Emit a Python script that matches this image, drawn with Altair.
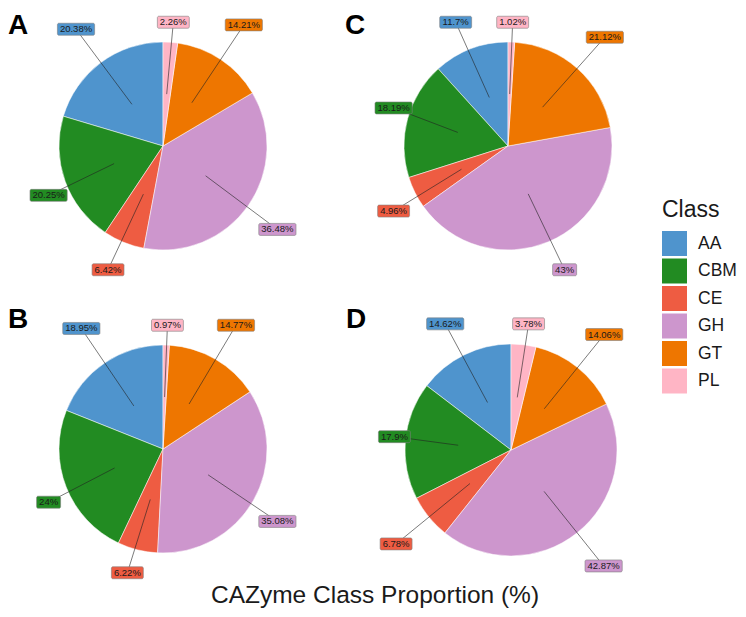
import altair as alt
import pandas as pd

# ---- data ----
classes = ["AA", "CBM", "CE", "GH", "GT", "PL"]
colors = ["#4F94CD", "#228B22", "#EE5C42", "#CD96CD", "#EE7600", "#FFB5C5"]
panels = ["A", "B", "C", "D"]
values_A = [20.38, 20.25, 6.42, 36.48, 14.21, 2.26]
values_B = [18.95, 24, 6.22, 35.08, 14.77, 0.97]
values_C = [11.7, 18.19, 4.96, 43, 21.12, 1.02]
values_D = [14.62, 17.9, 6.78, 42.87, 14.06, 3.78]
x_title = "CAZyme Class Proportion (%)"
legend_title = "Class"

# ---- layout (view pixels) ----
W, H = 730, 601
layout = {  # panel: (center x, center y, radius, letter x, letter y)
    "A": (155, 138, 104, 0, 26),
    "B": (155, 441, 104, 0, 320),
    "C": (500, 138, 104, 337, 26),
    "D": (503, 442, 106, 338, 320),
}
FONT = "Liberation Sans, Arial, Helvetica, sans-serif"

rows = []
for p, vals in zip(panels, [values_A, values_B, values_C, values_D]):
    for i, (c, v) in enumerate(zip(classes, vals)):
        rows.append({"panel": p, "cls": c, "value": v,
                     "label": f"{v:g}%", "ord": len(classes) - 1 - i})
df = pd.DataFrame(rows)


def panel_expr(idx):
    parts = [f"datum.panel=='{p}'?{layout[p][idx]}" for p in panels[:-1]]
    return ":".join(parts) + f":{layout[panels[-1]][idx]}"


cscale = alt.Scale(domain=classes, range=colors)

base = (
    alt.Chart(df)
    .transform_window(cum="sum(value)", groupby=["panel"],
                      sort=[alt.SortField("ord")], frame=[None, 0])
    .transform_joinaggregate(total="sum(value)", groupby=["panel"])
    .transform_calculate(
        cx=panel_expr(0), cy=panel_expr(1), r=panel_expr(2),
        t0="2*PI*(datum.cum-datum.value)/datum.total",
        t1="2*PI*datum.cum/datum.total",
    )
    .transform_calculate(tm="(datum.t0+datum.t1)/2")
    .transform_calculate(
        ix="datum.cx+0.5*datum.r*sin(datum.tm)",
        iy="datum.cy-0.5*datum.r*cos(datum.tm)",
        lx="datum.cx+clamp(1.4*datum.r*sin(datum.tm),-1.1*datum.r,1.1*datum.r)",
        ly="datum.cy+clamp(-1.4*datum.r*cos(datum.tm),-1.19*datum.r,1.19*datum.r)",
        hasdot="indexof(datum.label,'.')>=0?1:0",
    )
    .transform_calculate(
        bw="(length(datum.label)-1-datum.hasdot)*5.28+datum.hasdot*2.64+8.45+5",
    )
    .transform_calculate(
        bx0="datum.lx-datum.bw/2", bx1="datum.lx+datum.bw/2",
        by0="datum.ly-6", by1="datum.ly+6",
    )
)

pies = base.mark_arc(stroke="white", strokeWidth=0.5).encode(
    x=alt.X("cx:Q", scale=None, axis=None),
    y=alt.Y("cy:Q", scale=None, axis=None),
    theta=alt.Theta("t0:Q", scale=None, stack=False),
    theta2="t1:Q",
    radius=alt.Radius("r:Q", scale=None),
    color=alt.Color(
        "cls:N", scale=cscale,
        legend=alt.Legend(
            title=legend_title, orient="none", legendX=654, legendY=191,
            symbolType="square", symbolSize=625, symbolStrokeWidth=0,
            symbolOpacity=1, labelFontSize=17.5, titleFontSize=23,
            titleFontWeight="normal", titleFont=FONT, labelFont=FONT,
            titleColor="#1a1a1a", labelColor="#1a1a1a", titlePadding=9,
            rowPadding=2.5, labelOffset=11, padding=0,
        ),
    ),
)

lines = base.mark_rule(color="#222222", strokeWidth=0.6).encode(
    x=alt.X("ix:Q", scale=None), y=alt.Y("iy:Q", scale=None),
    x2="lx:Q", y2="ly:Q",
)

boxes = base.mark_rect(stroke="#808080", strokeWidth=0.6, cornerRadius=1.5).encode(
    x=alt.X("bx0:Q", scale=None), x2="bx1:Q",
    y=alt.Y("by0:Q", scale=None), y2="by1:Q",
    color=alt.Color("cls:N", scale=cscale, legend=None),
)

texts = base.mark_text(fontSize=9.5, font=FONT, color="#1a1a1a",
                       baseline="middle", align="center").encode(
    x=alt.X("lx:Q", scale=None), y=alt.Y("ly:Q", scale=None), text="label:N",
)

letters = (
    alt.Chart(pd.DataFrame({"panel": panels}))
    .transform_calculate(px=panel_expr(3), py=panel_expr(4))
    .mark_text(fontSize=28, fontWeight="bold", font=FONT, color="black",
               align="left", baseline="alphabetic")
    .encode(x=alt.X("px:Q", scale=None), y=alt.Y("py:Q", scale=None),
            text="panel:N")
)

title = (
    alt.Chart(pd.DataFrame({"t": [x_title]}))
    .mark_text(fontSize=24.5, font=FONT, color="#1a1a1a", align="center",
               baseline="alphabetic")
    .encode(x=alt.value(367), y=alt.value(595), text="t:N")
)

chart = (
    alt.layer(pies, lines, boxes, texts, letters, title)
    .properties(width=W, height=H, autosize=alt.AutoSizeParams(type="none"),
                padding=0)
    .configure_view(stroke=None)
)

chart.save("out.html", embed_options={"renderer": "svg", "actions": False})
